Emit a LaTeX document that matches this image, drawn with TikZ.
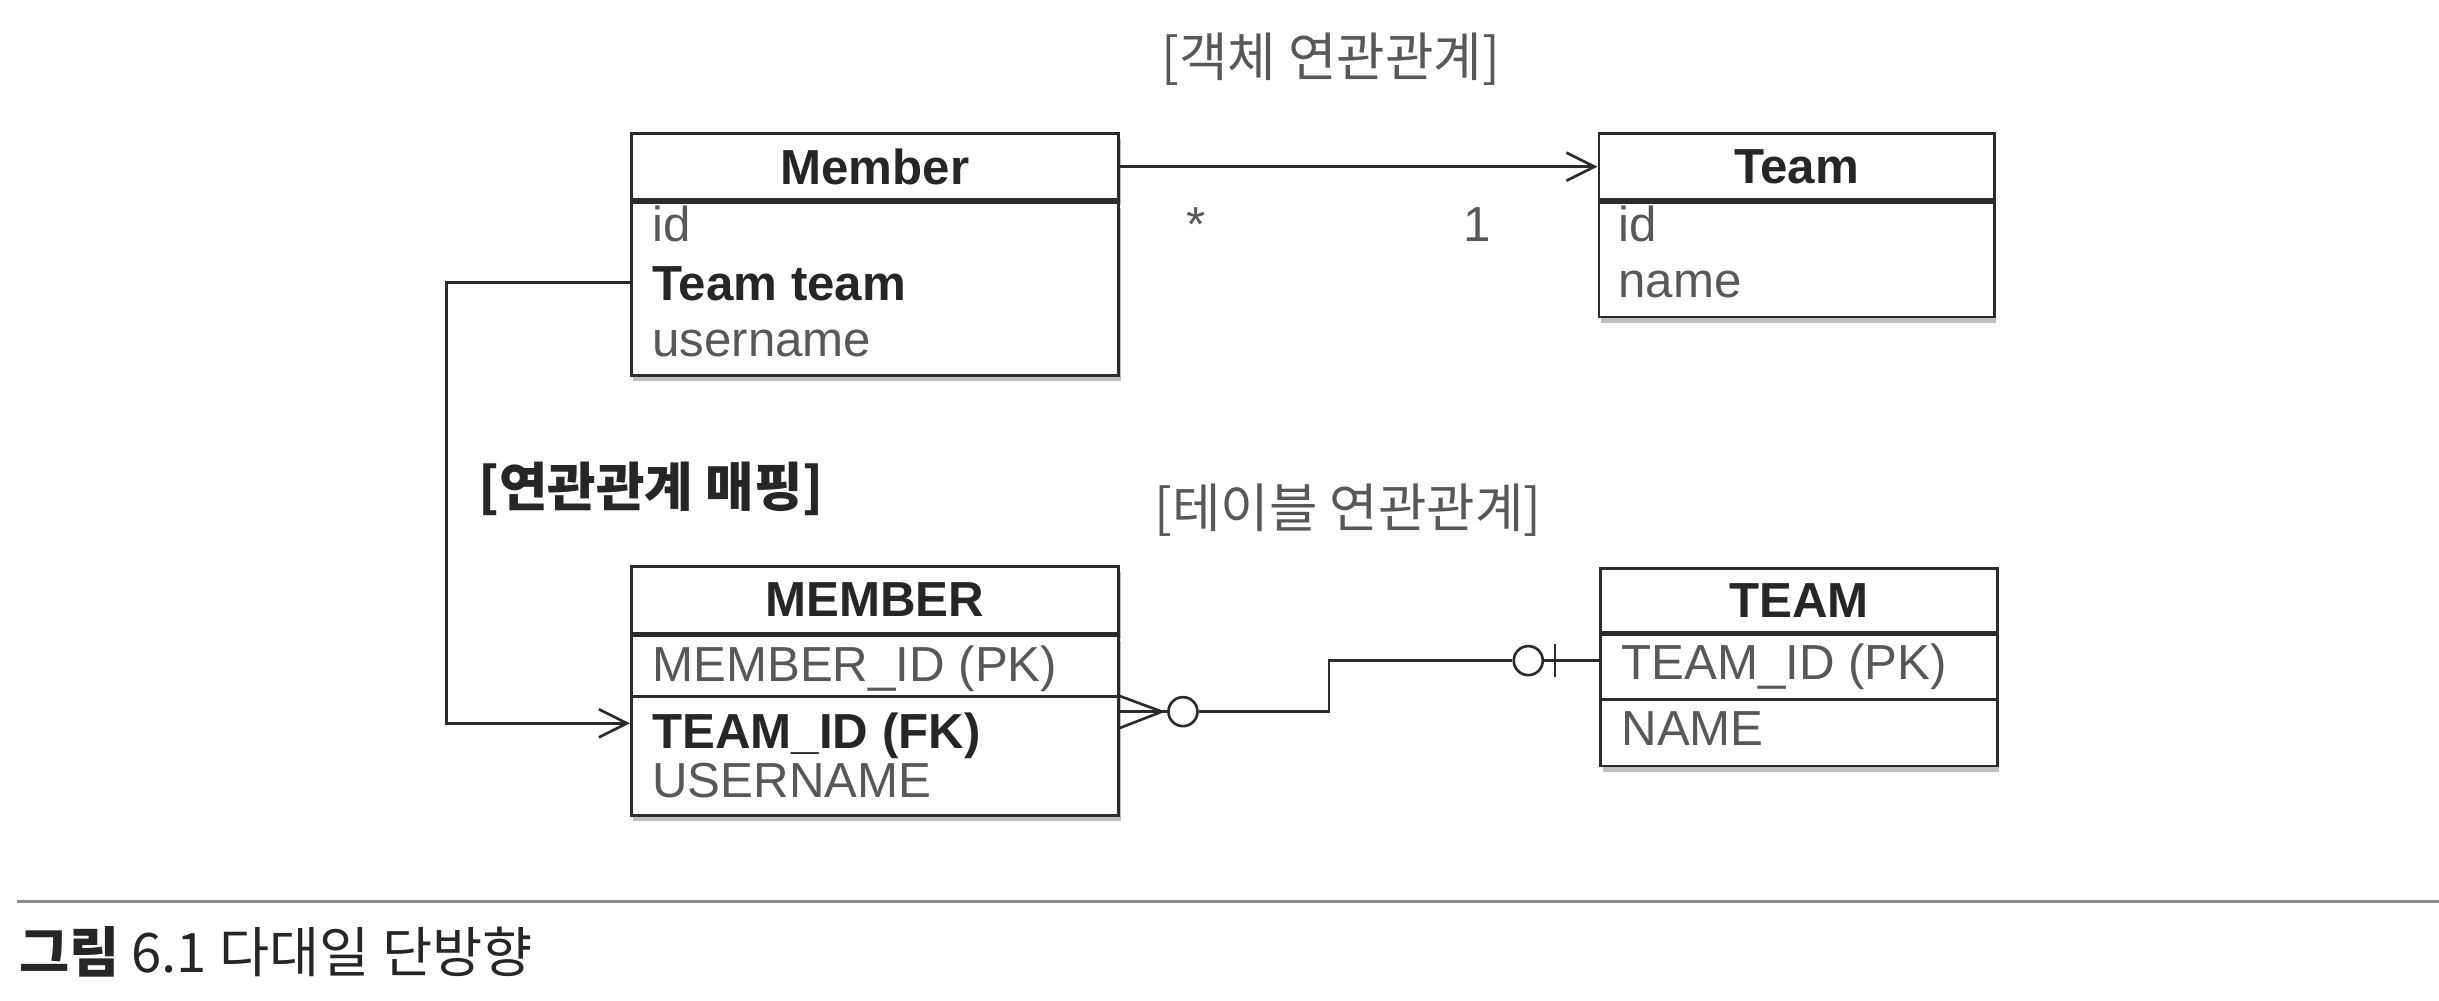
\documentclass[tikz,border=0pt]{standalone}
\usepackage{fontspec}
\setmainfont{Liberation Sans}
\newfontfamily\kr{Noto Sans CJK KR}
\usetikzlibrary{arrows.meta, shadows}
\definecolor{boxcol}{HTML}{2B2B2B}
\definecolor{txtgrey}{HTML}{585858}
\definecolor{txtdark}{HTML}{262626}
\definecolor{rulegrey}{HTML}{8A8A8A}

\tikzset{
  box/.style={draw=boxcol, line width=0.8pt, fill=white, inner sep=0pt, anchor=north west,
    drop shadow={shadow xshift=0.6pt, shadow yshift=-1.6pt, fill=black, opacity=0.25}},
  hdr/.style={box, font=\fontsize{14}{16}\selectfont\bfseries, text=txtdark},
  fld/.style={anchor=base west, inner sep=0pt, font=\fontsize{14}{16}\selectfont, text=txtgrey},
  fldbold/.style={fld, font=\fontsize{14}{16}\selectfont\bfseries, text=txtdark},
  conn/.style={draw=boxcol, line width=0.75pt},
  barb/.style={-{Straight Barb[length=8pt,width=8pt,line width=0.75pt]}},
  erdot/.style={circle, draw=boxcol, line width=0.75pt, fill=white, inner sep=0pt, minimum size=0.29cm},
  klabel/.style={font=\kr\fontsize{15}{17}\selectfont, text=txtgrey, inner sep=0pt},
}

\begin{document}
\begin{tikzpicture}[x=0.015555cm, y=-0.015555cm]
    \useasboundingbox (0,0) rectangle (1568,643);

    % Object model
    \node[klabel] (objlbl) at (855.5,38) {[객체 연관관계]};
    \node[hdr, minimum width=4.869cm, minimum height=0.661cm] (memhead) at (405,85) {Member};
    \node[box, minimum width=4.869cm, minimum height=1.727cm] (membody) at (memhead.south west) {};
    \node[fld] (memid) at (419,155.4) {id};
    \node[fldbold] (memteam) at (419,192.9) {Team team};
    \node[fld] (memuser) at (419,229.3) {username};

    \node[hdr, minimum width=3.951cm, minimum height=0.661cm] (teamhead) at (1027,85) {Team};
    \node[box, minimum width=3.951cm, minimum height=1.143cm] (teambody) at (teamhead.south west) {};
    \foreach \n/\t/\y in {teamid/id/155.4, teamname/name/191} \node[fld] (\n) at (1040,\y) {\t};

    \draw[conn, barb] (memhead.east) -- (teamhead.west);
    \node[fld, anchor=base] (manymark) at (769,155.4) {*};
    \node[fld, anchor=base] (onemark) at (949.5,155.4) {1};

    % Mapping
    \node[klabel, anchor=west, text=txtdark, font=\kr\bfseries\fontsize{15}{17}\selectfont] (maplbl) at (307,314) {[연관관계 매핑]};
    \coordinate (mapbend) at (287,181.5);

    % Table model
    \node[klabel] (tbllbl) at (866.5,328) {[테이블 연관관계]};
    \node[hdr, minimum width=4.869cm, minimum height=0.661cm] (tmemhead) at (405,363.5) {MEMBER};
    \node[box, minimum width=4.869cm, minimum height=1.797cm] (tmembody) at (tmemhead.south west) {};
    \draw[conn, line width=0.8pt] (tmembody.west |- 0,448) -- (tmembody.east |- 0,448);
    \node[fld] (tmempk) at (419,438) {MEMBER\_ID (PK)};
    \node[fldbold] (tmemfk) at (419,481) {TEAM\_ID (FK)};
    \node[fld] (tmemuser) at (419,513) {USERNAME};

    \node[hdr, minimum width=3.967cm, minimum height=0.638cm] (tteamhead) at (1028,364.5) {TEAM};
    \node[box, minimum width=3.967cm, minimum height=1.310cm] (tteambody) at (tteamhead.south west) {};
    \draw[conn, line width=0.8pt] (tteambody.west |- 0,449.6) -- (tteambody.east |- 0,449.6);
    \node[fld] (tteampk) at (1042,437) {TEAM\_ID (PK)};
    \node[fld] (tteamname) at (1042,479) {NAME};

    \draw[conn, barb] (membody.west |- mapbend) -- (mapbend) |- (tmembody.west |- 0,465);

    % Crow's foot ends
    \node[erdot] (manyring) at (760.5,457.5) {};
    \node[erdot] (onering) at (982.5,424.7) {};
    \draw[conn] (tmembody.east |- 0,447.5) -- (747,457.5) -- (tmembody.east |- 0,468);
    \draw[conn] (tmembody.east |- manyring) -- (manyring.west);
    \draw[conn] (manyring.east) -- (854.5,457.5) |- (onering.west);
    \draw[conn] (onering.east) -- (onering -| tteambody.west);
    \draw[conn] (999.7,414) -- (999.7,435.5);

    % Caption
    \draw[draw=rulegrey, line width=0.9pt] (10.7,579.7) -- (1568,579.7);
    \node[klabel, anchor=west, text=txtdark, font=\kr\fontsize{15.5}{17}\selectfont] (caption) at (11.8,612) {{\bfseries 그림} 6.1 다대일 단방향};
\end{tikzpicture}
\end{document}
